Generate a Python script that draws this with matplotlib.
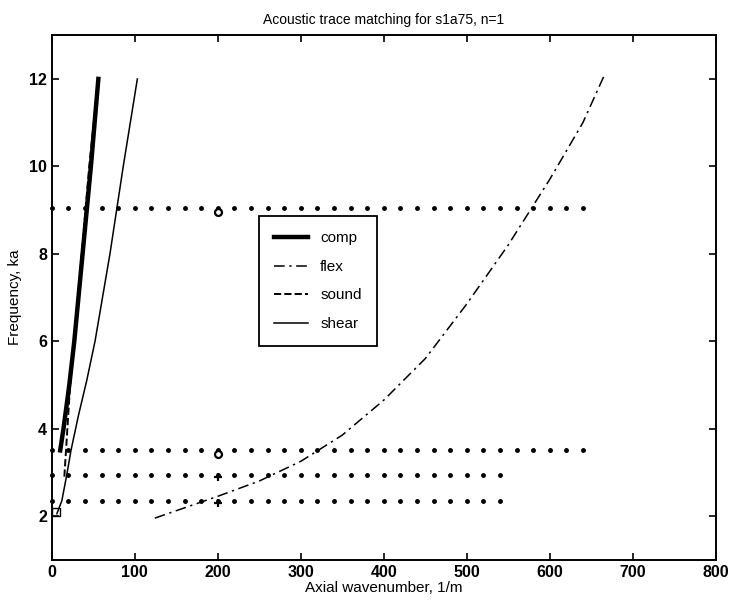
import matplotlib

matplotlib.use("Agg")
import matplotlib.pyplot as plt
import numpy as np

plt.rcParams["font.family"] = ["Liberation Sans", "DejaVu Sans"]

# dispersion branches (wavenumber in 1/m, frequency in ka)
comp_k = [10, 14, 21, 27, 37, 47, 56]
comp_f = [3.5, 4.0, 5.0, 6.0, 8.0, 10.0, 12.0]

flex_k = [124, 200, 250, 300, 350, 400, 450, 500, 550, 600, 640, 665]
flex_f = [1.95, 2.45, 2.8, 3.25, 3.85, 4.65, 5.6, 6.85, 8.2, 9.7, 11.0, 12.05]

sound_k = [15, 18, 22, 28, 36, 45, 56]
sound_f = [2.9, 3.8, 5.0, 6.2, 8.0, 10.0, 12.0]

shear_k = [6, 12, 18, 23, 32, 42, 52, 61, 70, 86, 103]
shear_f = [2.05, 2.35, 2.95, 3.5, 4.3, 5.1, 6.0, 7.0, 8.0, 10.0, 12.0]

# measured trace frequencies and the wavenumber range they were sampled over
trace_f = [9.05, 3.5, 2.93, 2.35]
trace_kmax = [640, 640, 540, 540]
k_step = 20

# matched points
match_o_k = [200, 200]
match_o_f = [8.95, 3.42]
match_p_k = [200, 200]
match_p_f = [2.9, 2.3]
start_k = [5]
start_f = [2.08]

fig = plt.figure(figsize=(7.31, 6.07), dpi=100)
ax = fig.add_axes([0.071, 0.078, 0.908, 0.864])

for f, kmax in zip(trace_f, trace_kmax):
    ks = np.arange(0, kmax + 1, k_step)
    ax.plot(ks, np.full(ks.shape, f), "o", color="black", markersize=2.5, clip_on=False)

ax.plot(match_o_k, match_o_f, "o", mfc="white", mec="black", mew=1.6, markersize=5)
ax.plot(match_p_k, match_p_f, "+", color="black", mew=1.6, markersize=6)
ax.plot(start_k, start_f, "s", mfc="none", mec="black", mew=1.0, markersize=6)

ax.plot(comp_k, comp_f, "-", color="black", linewidth=3.2, label="comp")
ax.plot(flex_k, flex_f, color="black", linewidth=1.1, dashes=(7, 3, 1.5, 3),
        label="flex")
ax.plot(sound_k, sound_f, "--", color="black", linewidth=1.4, label="sound")
ax.plot(shear_k, shear_f, "-", color="black", linewidth=1.1, label="shear")

ax.set_xlim(0, 800)
ax.set_ylim(1, 13)
ax.set_xticks(np.arange(0, 801, 100))
ax.set_yticks(np.arange(2, 13, 2))
ax.tick_params(direction="in", top=True, right=True, length=5, width=1.2,
               labelsize=11.5)
for lab in ax.get_xticklabels() + ax.get_yticklabels():
    lab.set_fontweight("bold")
for s in ax.spines.values():
    s.set_linewidth(1.4)

ax.set_xlabel("Axial wavenumber, 1/m", fontsize=11, labelpad=1)
ax.set_ylabel("Frequency, ka", fontsize=11, labelpad=5)
ax.set_title("Acoustic trace matching for s1a75, n=1", fontsize=10, pad=8)

leg = ax.legend(loc="upper left", bbox_to_anchor=(0.312, 0.655), fontsize=11,
                fancybox=False, framealpha=1, edgecolor="black",
                handlelength=2.2, labelspacing=0.95, borderpad=1.0,
                borderaxespad=0)
leg.get_frame().set_linewidth(1.3)

fig.savefig("out.png", dpi=100)
